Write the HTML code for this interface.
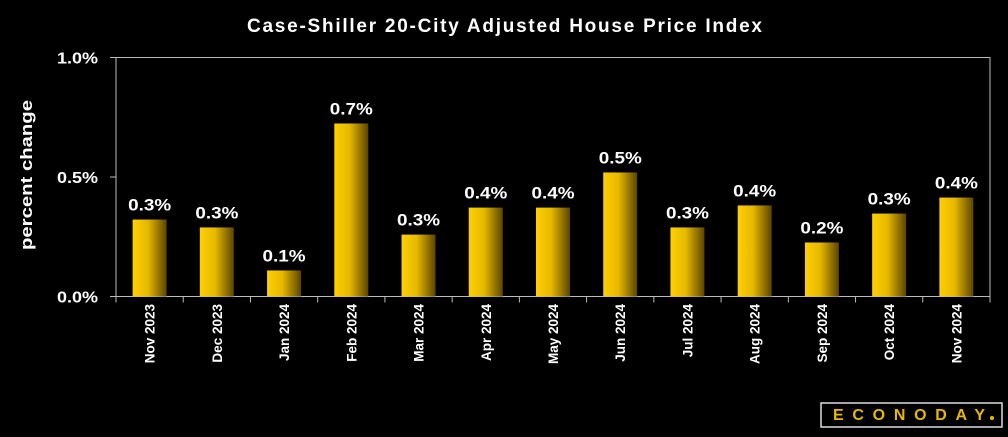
<!DOCTYPE html>
<html><head><meta charset="utf-8"><style>
body{margin:0;background:#000;width:1008px;height:432px;overflow:hidden;font-family:"Liberation Sans",sans-serif}
</style></head><body>
<svg width="1008" height="432">
<defs><linearGradient id="g" x1="0" x2="1" y1="0" y2="0"><stop offset="0" stop-color="#ffd000"/><stop offset="0.45" stop-color="#e6b800"/><stop offset="1" stop-color="#5a4500"/></linearGradient></defs>
<text x="247" y="32" fill="#fff" font-size="19" font-weight="bold" textLength="515" lengthAdjust="spacing">Case-Shiller 20-City Adjusted House Price Index</text>
<text transform="translate(32,250) rotate(-90)" fill="#fff" font-size="17" font-weight="bold" textLength="150" lengthAdjust="spacingAndGlyphs">percent change</text>
<rect x="116" y="57.5" width="874" height="239" fill="none" stroke="#bbb" stroke-width="1"/>
<g id="yt"></g><g id="bars"></g><g id="xl"></g>
<g>
<rect x="821" y="403" width="181" height="24" fill="#000" stroke="#ddd" stroke-width="1.5"/>
<text x="833" y="420" fill="#e8b800" font-size="16" font-weight="bold" textLength="152" lengthAdjust="spacing">ECONODAY</text>
<circle cx="992" cy="418" r="2" fill="#e8b800"/>
</g>
</svg>
<script>
const categories=["Nov 2023","Dec 2023","Jan 2024","Feb 2024","Mar 2024","Apr 2024","May 2024","Jun 2024","Jul 2024","Aug 2024","Sep 2024","Oct 2024","Nov 2024"];
const values=[0.322,0.289,0.109,0.724,0.259,0.372,0.372,0.519,0.289,0.381,0.226,0.347,0.414];
const labels=["0.3%","0.3%","0.1%","0.7%","0.3%","0.4%","0.4%","0.5%","0.3%","0.4%","0.2%","0.3%","0.4%"];
const yTicks=[0,0.5,1.0];
const yTickLabels=["0.0%","0.5%","1.0%"];
const NS="http://www.w3.org/2000/svg";
const L=116,R=990,T=57.5,B=296.5,step=(R-L)/categories.length;
const y=v=>B-(v-0)/(1.0-0)*(B-T);
const x=i=>L+step*(i+0.5);
function mk(t,a,p){const e=document.createElementNS(NS,t);for(const k in a)e.setAttribute(k,a[k]);document.getElementById(p).appendChild(e);return e;}
yTicks.forEach((v,i)=>{
 const t=mk("line",{x1:L-6,x2:L,y1:y(v),y2:y(v),stroke:"#bbb"},"yt");
 
 
 const s=mk("text",{x:L-59,y:y(v)+6,fill:"#fff","font-size":16,"font-weight":"bold",textLength:41,lengthAdjust:"spacingAndGlyphs"},"yt");
 s.textContent=yTickLabels[i];
 
 
});
for(let i=0;i<=categories.length;i++){
 const t=mk("line",{x1:L+step*i,x2:L+step*i,y1:B,y2:B+6,stroke:"#bbb"},"xl");
 
 
}
categories.forEach((c,i)=>{
 const bw=34;
 const b=mk("rect",{x:x(i)-bw/2,y:y(values[i]),width:bw,height:B-y(values[i]),fill:"url(#g)"},"bars");
 
 
 const v=mk("text",{x:x(i)-21.5,y:y(values[i])-9,fill:"#fff","font-size":17,"font-weight":"bold",textLength:43,lengthAdjust:"spacingAndGlyphs"},"bars");
 v.textContent=labels[i];
 
 
 const t=mk("text",{transform:`translate(${x(i)+5},304) rotate(-90)`,fill:"#fff","font-size":13.5,"font-weight":"bold","text-anchor":"end"},"xl");
 t.textContent=c;
 
 
});
</script>
</body></html>
